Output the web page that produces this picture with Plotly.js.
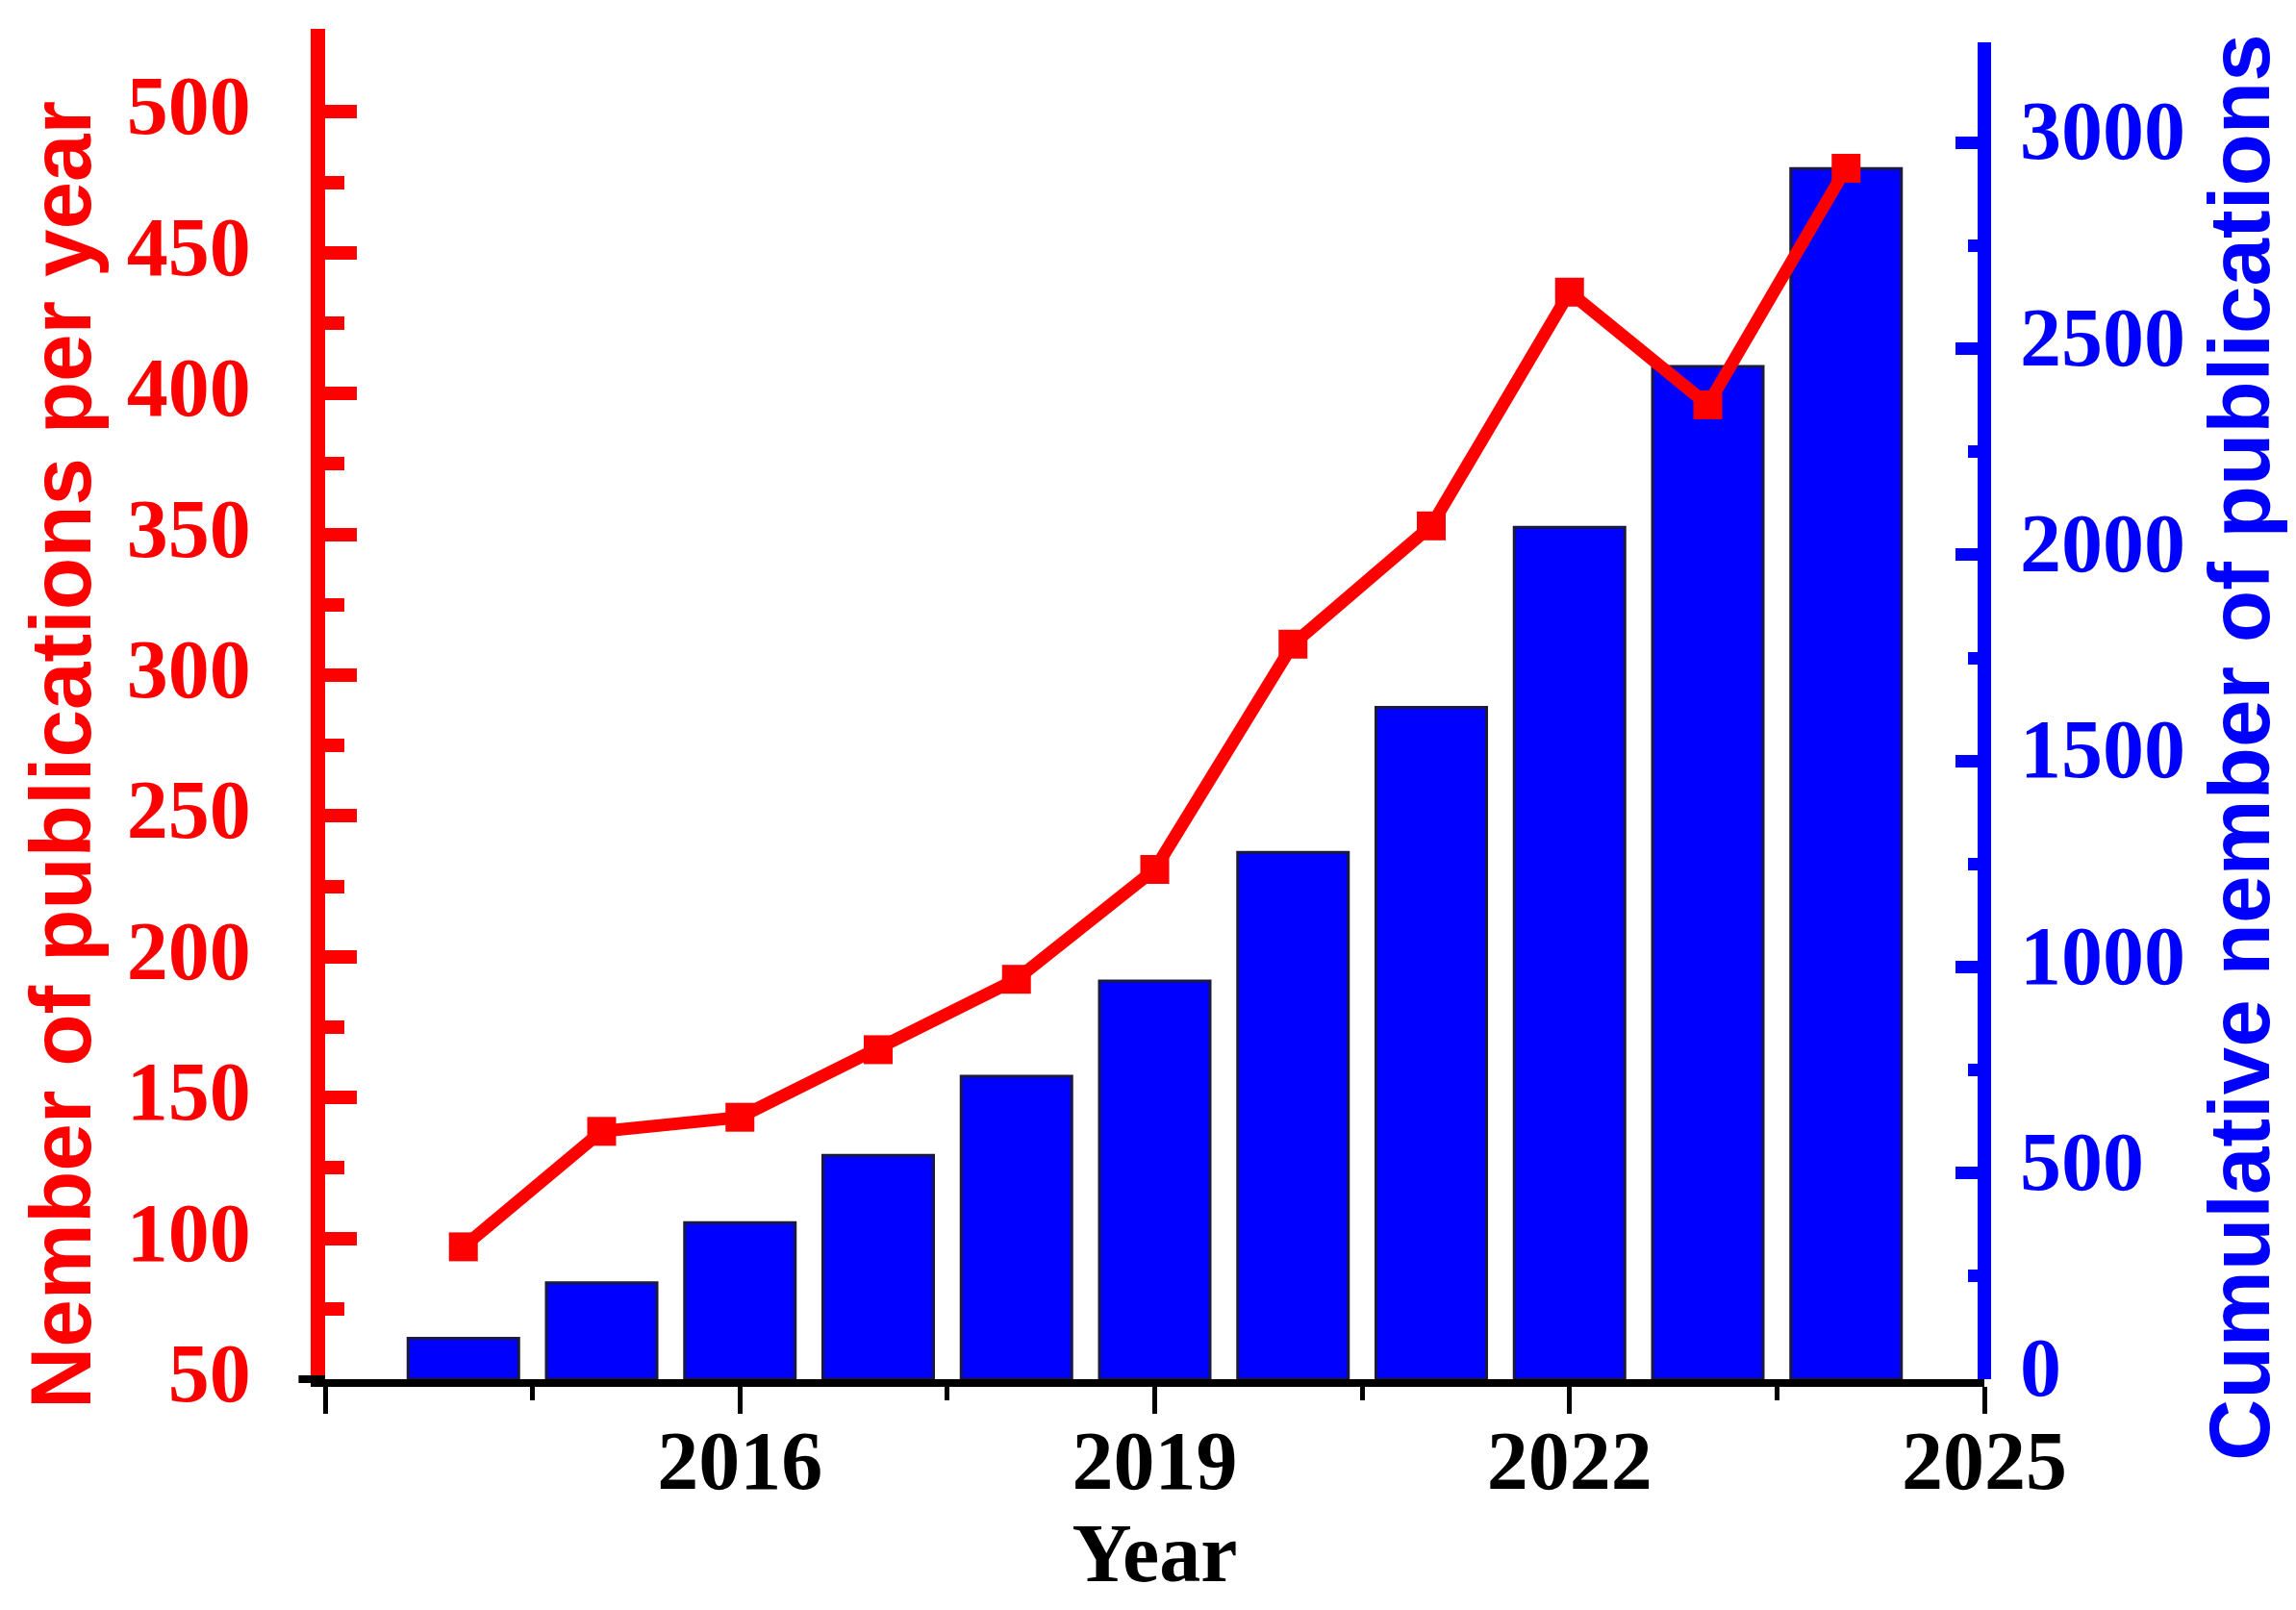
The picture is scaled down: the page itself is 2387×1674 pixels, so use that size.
<!DOCTYPE html>
<html>
<head>
<meta charset="utf-8">
<script src="https://cdn.plot.ly/plotly-3.0.1.min.js"></script>
<style>html,body{margin:0;padding:0;background:#fff;}#chart{width:2387px;height:1674px;}</style>
</head>
<body>
<div id="chart"></div>
<script>
const years = [2014, 2015, 2016, 2017, 2018, 2019, 2020, 2021, 2022, 2023, 2024];
const perYear = [97, 138, 143, 167, 192, 231, 311, 353, 436, 396, 480];
const cumulative = [99, 234, 380, 543, 735, 966, 1278, 1630, 2067, 2457, 2937];
const xTickVals = [2013, 2016, 2019, 2022, 2025];
const xTickText = ['', '2016', '2019', '2022', '2025'];
const xMinorVals = [2014.5, 2017.5, 2020.5, 2023.5];
const leftMinorVals = [75, 125, 175, 225, 275, 325, 375, 425, 475];
const rightMinorVals = [250, 750, 1250, 1750, 2250, 2750];
const leftTitle = 'Nember of publications per year';
const rightTitle = 'Cumulative nember of publications';
const xTitle = 'Year';

const RED = '#FF0000', BLUE = '#0000FF';
const serifBold = (size, color) => ({family: 'Liberation Serif, Times New Roman, serif', size: size, color: color, weight: 700});
const sansBold = (size, color) => ({family: 'Liberation Sans, Arial, sans-serif', size: size, color: color, weight: 700});

const bars = {
  type: 'bar', x: years, y: cumulative, yaxis: 'y', width: 0.8,
  marker: {color: BLUE, line: {color: '#1a1a40', width: 3}},
  showlegend: false
};
const line = {
  type: 'scatter', mode: 'lines+markers', x: years, y: perYear, yaxis: 'y2',
  line: {color: RED, width: 13},
  marker: {symbol: 'square', size: 30, color: RED},
  showlegend: false
};

const layout = {
  width: 2387, height: 1674,
  margin: {l: 338, r: 324, t: 30, b: 240},
  paper_bgcolor: '#fff', plot_bgcolor: 'rgba(0,0,0,0)',
  showlegend: false,
  xaxis: {
    range: [2013, 2025], tickmode: 'array', tickvals: xTickVals, ticktext: xTickText,
    ticks: 'outside', ticklen: 28, tickwidth: 5, tickcolor: '#000',
    minor: {tickmode: 'array', tickvals: xMinorVals, ticks: 'outside', ticklen: 14, tickwidth: 5, tickcolor: '#000', showgrid: false},
    showline: true, linecolor: '#000', linewidth: 8,
    showgrid: false, zeroline: false,
    ticklabelstandoff: -25,
    tickfont: serifBold(86, '#000'),
    title: {text: xTitle, font: serifBold(86, '#000'), standoff: 20}
  },
  yaxis: {
    side: 'right', range: [0, 3276], dtick: 500, tick0: 0,
    ticks: 'inside', ticklen: 30, tickwidth: 13, tickcolor: BLUE,
    minor: {tickmode: 'array', tickvals: rightMinorVals, ticks: 'inside', ticklen: 17, tickwidth: 13, tickcolor: BLUE, showgrid: false},
    showline: false,
    showgrid: false, zeroline: false,
    ticklabelstandoff: 36,
    ticklabelshift: -13,
    tickfont: serifBold(86, BLUE)
  },
  yaxis2: {
    side: 'left', overlaying: 'y', range: [50, 529.5], dtick: 50, tick0: 50,
    ticks: 'inside', ticklen: 33, tickwidth: 14, tickcolor: RED,
    minor: {tickmode: 'array', tickvals: leftMinorVals, ticks: 'inside', ticklen: 20, tickwidth: 14, tickcolor: RED, showgrid: false},
    showline: true, linecolor: RED, linewidth: 15,
    showgrid: false, zeroline: false,
    ticklabelstandoff: 45,
    ticklabelshift: -7,
    tickfont: serifBold(86, RED)
  },
  shapes: [
    {type: 'line', xref: 'paper', yref: 'paper', x0: -0.016, x1: 0, y0: 0, y1: 0, line: {color: '#000', width: 8}},
    {type: 'line', xref: 'paper', yref: 'paper', x0: 1, x1: 1, y0: 0, y1: 0.99, line: {color: BLUE, width: 14}}
  ],
  annotations: [
    {text: leftTitle, xref: 'paper', yref: 'paper', x: -0.1594, y: 0.4623, xanchor: 'center', yanchor: 'middle', textangle: -90, showarrow: false, font: sansBold(89, RED)},
    {text: rightTitle, xref: 'paper', yref: 'paper', x: 1.1536, y: 0.468, xanchor: 'center', yanchor: 'middle', textangle: -90, showarrow: false, font: sansBold(89, BLUE)}
  ]
};

Plotly.newPlot('chart', [bars, line], layout, {displayModeBar: false, staticPlot: true});
</script>
</body>
</html>
